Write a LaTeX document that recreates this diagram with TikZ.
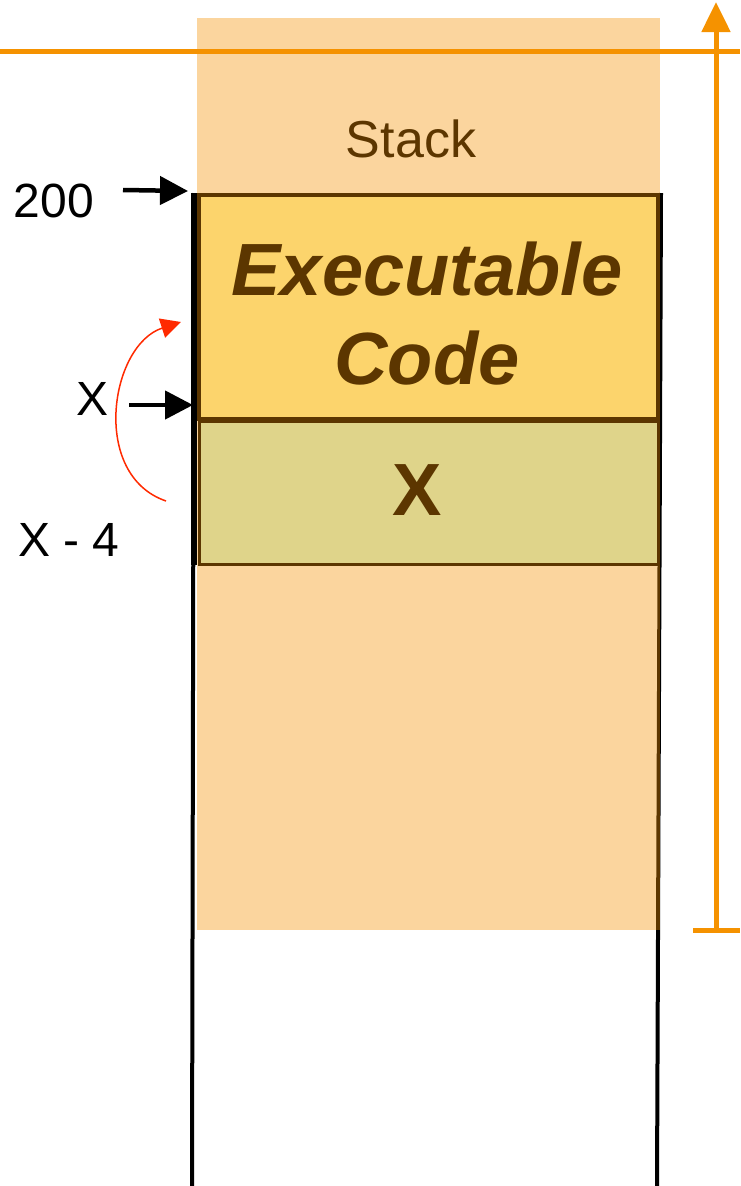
\documentclass[tikz,border=0pt]{standalone}
\usepackage{fontspec}
\setmainfont{Liberation Sans}
\usetikzlibrary{arrows.meta}
\definecolor{stackorange}{RGB}{245,146,0}
\definecolor{brownink}{RGB}{92,54,0}
\definecolor{codefill}{RGB}{252,212,108}
\definecolor{slotfill}{RGB}{223,212,138}
\definecolor{swapred}{RGB}{255,42,0}
\begin{document}
\begin{tikzpicture}[x=1pt,y=-1pt,
  rail/.style={line width=4pt,black},
  orangeline/.style={line width=5pt,stackorange},
  codebox/.style={rectangle,draw=brownink,line width=4pt,fill=codefill,inner sep=0pt},
  slotbox/.style={rectangle,draw=brownink,line width=3pt,fill=slotfill,inner sep=0pt},
  addrlabel/.style={inner sep=0pt,anchor=base,font=\fontsize{48}{58}\selectfont},
  pointer/.style={line width=4.5pt,-{Triangle[length=28pt,width=28pt]}},
  swaparc/.style={line width=1.5pt,swapred,-{Triangle[length=20pt,width=20pt]}}]
\useasboundingbox (0,0) rectangle (740,1186);
\fill[white] (0,0) rectangle (740,1186);

% memory column walls
\coordinate (lefttop) at (194,193);
\coordinate (leftbot) at (192,1186);
\coordinate (leftmid) at (194,565);
\coordinate (righttop) at (661,193);
\coordinate (rightbot) at (657,1186);
\draw[rail] (lefttop) -- (leftbot);
\draw[line width=6pt] (lefttop) -- (leftmid);
\draw[rail] (righttop) -- (rightbot);

% stack region (translucent)
\fill[stackorange,fill opacity=0.38] (197,18) rectangle (660,930);
\node[inner sep=0pt,anchor=base,text=brownink,font=\fontsize{52}{62}\selectfont]
  (stacklabel) at (411,157) {Stack};

% code block and slot X
\node[codebox,minimum width=459pt,minimum height=224pt] (exec) at (428.5,307) {};
\node[slotbox,minimum width=459pt,minimum height=143pt] (slot) at (428.5,492.5) {};
\node[inner sep=0pt,align=center,text=brownink,
  font=\fontsize{74}{89}\selectfont\bfseries\itshape] (exectext) at (427,314)
  {Executable\\Code};
\node[inner sep=0pt,anchor=base,text=brownink,
  font=\fontsize{74}{89}\selectfont\bfseries] (slottext) at (417,515) {X};

% stack bound marker
\coordinate (limitleft) at (0,51);
\coordinate (limitright) at (740,51);
\draw[orangeline] (limitleft) -- (limitright);
\coordinate (sizebot) at (716,930);
\coordinate (sizetop) at (716,2);
\coordinate (barleft) at (693,930);
\coordinate (barright) at (740,930);
\draw[orangeline,-{Triangle[length=30pt,width=28pt]}] (sizebot) -- (sizetop);
\draw[orangeline] (barleft) -- (barright);

% address labels and pointers
\node[addrlabel] (addr200) at (54,217) {200};
\node[addrlabel] (addrx) at (93,415) {X};
\node[addrlabel] (addrxm) at (69,556) {X - 4};
\coordinate (ptr200from) at (123,190);
\coordinate (ptr200to) at (188,191);
\coordinate (ptrxfrom) at (129,405);
\coordinate (ptrxto) at (193,405);
\draw[pointer] (ptr200from) -- (ptr200to);
\draw[pointer] (ptrxfrom) -- (ptrxto);

% curved red arrow
\coordinate (arcstart) at (166,501);
\coordinate (arcend) at (181,322);
\draw[swaparc] (arcstart) .. controls (90,475) and (110,345) .. (arcend);
\end{tikzpicture}
\end{document}
